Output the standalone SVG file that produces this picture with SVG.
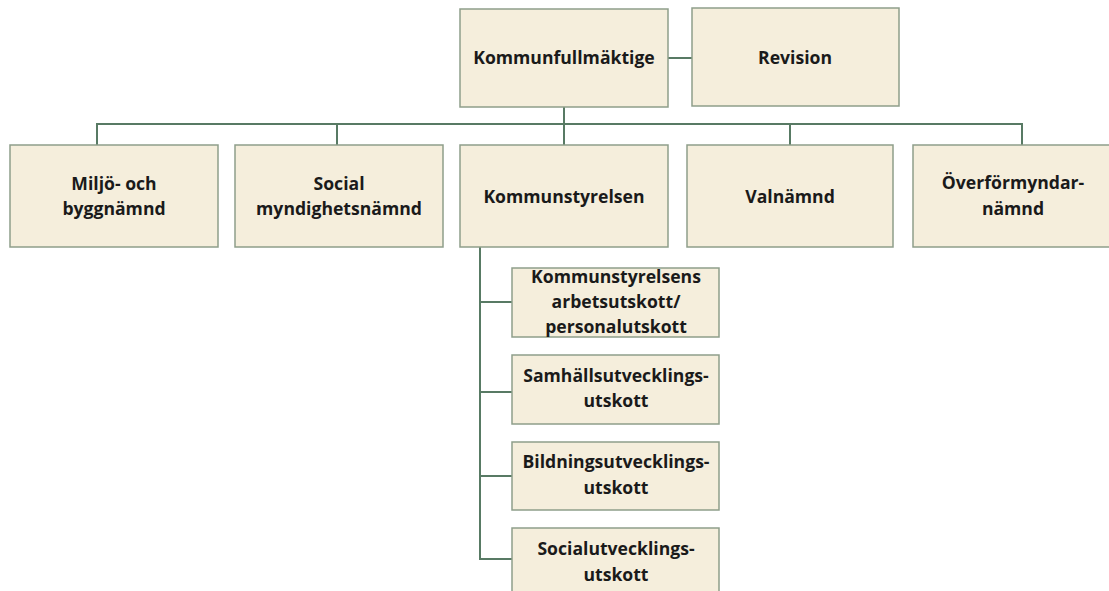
<svg xmlns="http://www.w3.org/2000/svg" width="1109" height="591" viewBox="0 0 1109 591">
<style>
.box{fill:#F5EEDC;stroke:#8E9E8A;stroke-width:1.5}
.t{font-family:"Open Sans","Liberation Sans",sans-serif;font-weight:bold;font-size:17.6px;fill:#1a1a1a;text-anchor:middle}
.c{fill:none;stroke:#587A64;stroke-width:2}
</style>
<rect width="1109" height="591" fill="#ffffff"/>
<g id="connectors">
<line class="c" x1="668" y1="58" x2="692" y2="58"/>
<line class="c" x1="564" y1="107" x2="564" y2="145"/>
<polyline class="c" points="97,145 97,124 1022,124 1022,145"/>
<line class="c" x1="337" y1="124" x2="337" y2="145"/>
<line class="c" x1="790" y1="124" x2="790" y2="145"/>
<polyline class="c" points="480,247 480,559 512,559"/>
<line class="c" x1="480" y1="302" x2="512" y2="302"/>
<line class="c" x1="480" y1="392" x2="512" y2="392"/>
<line class="c" x1="480" y1="476" x2="512" y2="476"/>
</g>
<g id="kommunfullmaktige"><rect class="box" x="460" y="9" width="208" height="98"/><text class="t" x="564" y="64">Kommunfullmäktige</text></g>
<g id="revision"><rect class="box" x="692" y="8" width="207" height="98"/><text class="t" x="795" y="64">Revision</text></g>
<g id="miljo"><rect class="box" x="10" y="145" width="208" height="102"/><text class="t" x="114" y="190">Miljö- och</text><text class="t" x="114" y="215">byggnämnd</text></g>
<g id="social-myndighet"><rect class="box" x="235" y="145" width="208" height="102"/><text class="t" x="339" y="190">Social</text><text class="t" x="339" y="215">myndighetsnämnd</text></g>
<g id="kommunstyrelsen"><rect class="box" x="460" y="145" width="208" height="102"/><text class="t" x="564" y="203">Kommunstyrelsen</text></g>
<g id="valnamnd"><rect class="box" x="687" y="145" width="206" height="102"/><text class="t" x="790" y="203">Valnämnd</text></g>
<g id="overformyndar"><rect class="box" x="913" y="145" width="198" height="102"/><text class="t" x="1013" y="189">Överförmyndar-</text><text class="t" x="1013" y="215">nämnd</text></g>
<g id="ks-au"><rect class="box" x="512" y="268" width="207" height="69"/><text class="t" x="616" y="283">Kommunstyrelsens</text><text class="t" x="616" y="308">arbetsutskott/</text><text class="t" x="616" y="333">personalutskott</text></g>
<g id="samhall"><rect class="box" x="512" y="355" width="207" height="69"/><text class="t" x="616" y="382">Samhällsutvecklings-</text><text class="t" x="616" y="407">utskott</text></g>
<g id="bildning"><rect class="box" x="512" y="442" width="207" height="68"/><text class="t" x="616" y="468">Bildningsutvecklings-</text><text class="t" x="616" y="494">utskott</text></g>
<g id="socialutv"><rect class="box" x="512" y="528" width="207" height="70"/><text class="t" x="616" y="555">Socialutvecklings-</text><text class="t" x="616" y="581">utskott</text></g>
</svg>
